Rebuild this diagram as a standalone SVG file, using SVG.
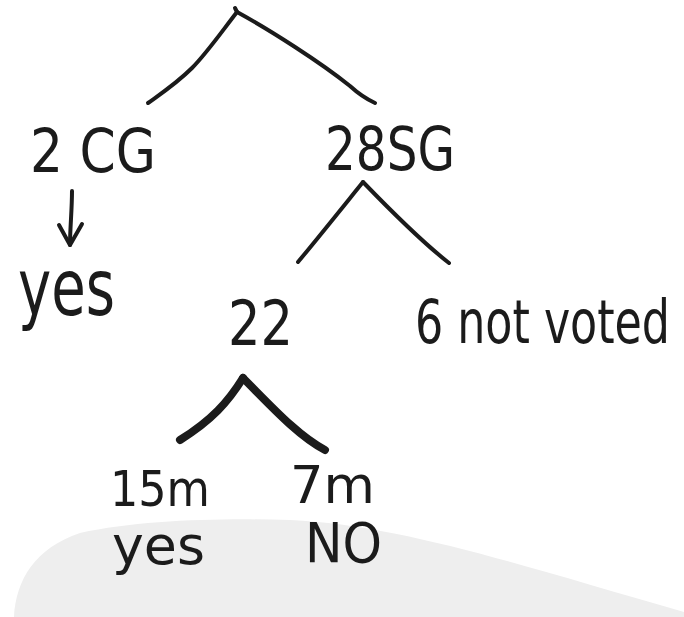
<svg xmlns="http://www.w3.org/2000/svg" width="684" height="617" viewBox="0 0 684 617">
  <style>
    .ink { fill: none; stroke: #1b1b1b; stroke-width: 4; stroke-linecap: round; stroke-linejoin: round; }
    .thick { stroke-width: 8; }
    .lbl { font-family: "Liberation Sans Narrow", "DejaVu Sans Condensed", "Liberation Sans", sans-serif; fill: #1b1b1b; }
  </style>
  <rect width="684" height="617" fill="#ffffff"/>
  <!-- faint paper shading at the bottom -->
  <path d="M14,617 C16,580 35,548 80,533 C140,520 220,518 290,520 C400,525 520,565 684,612 L684,617 Z" fill="#eeeeee"/>

  <g id="connectors">
    <!-- root split -->
    <path class="ink" d="M237,12 C220,34 206,54 192,68 C177,83 162,93 148,103"/>
    <path class="ink" d="M237,12 C270,30 320,62 350,86 Q362,97 375,103"/>
    <path class="ink" d="M237,12 L235,8"/>
    <!-- 2 CG down arrow -->
    <path class="ink" d="M72,191 C72,210 70,228 70,245"/>
    <path class="ink" d="M59,225 L70,245 L82,224"/>
    <!-- 28 SG split -->
    <path class="ink" d="M363,182 C342,208 318,238 298,262"/>
    <path class="ink" d="M363,182 C392,212 422,242 449,263"/>
    <!-- 22 split -->
    <path class="ink thick" d="M243,378 C228,402 212,420 180,440"/>
    <path class="ink thick" d="M243,378 C270,405 298,436 325,450"/>
  </g>

  <g id="node-2cg">
    <text class="lbl" x="30" y="172" font-size="60" textLength="126" lengthAdjust="spacingAndGlyphs">2 CG</text>
  </g>
  <g id="node-yes-left">
    <text class="lbl" x="18" y="315" font-size="78" textLength="97" lengthAdjust="spacingAndGlyphs">yes</text>
  </g>
  <g id="node-28sg">
    <text class="lbl" x="325" y="170" font-size="60" textLength="130" lengthAdjust="spacingAndGlyphs">28SG</text>
  </g>
  <g id="node-22">
    <text class="lbl" x="228" y="345" font-size="62" textLength="65" lengthAdjust="spacingAndGlyphs">22</text>
  </g>
  <g id="node-not-voted">
    <text class="lbl" x="415" y="343" font-size="60" textLength="255" lengthAdjust="spacingAndGlyphs">6 not voted</text>
  </g>
  <g id="node-15m">
    <text class="lbl" x="110" y="506" font-size="50" textLength="100" lengthAdjust="spacingAndGlyphs">15m</text>
    <text class="lbl" x="112" y="564" font-size="54" textLength="93" lengthAdjust="spacingAndGlyphs">yes</text>
  </g>
  <g id="node-7m">
    <text class="lbl" x="290" y="503" font-size="52" textLength="85" lengthAdjust="spacingAndGlyphs">7m</text>
    <text class="lbl" x="305" y="562" font-size="56" textLength="77" lengthAdjust="spacingAndGlyphs">NO</text>
  </g>
</svg>
